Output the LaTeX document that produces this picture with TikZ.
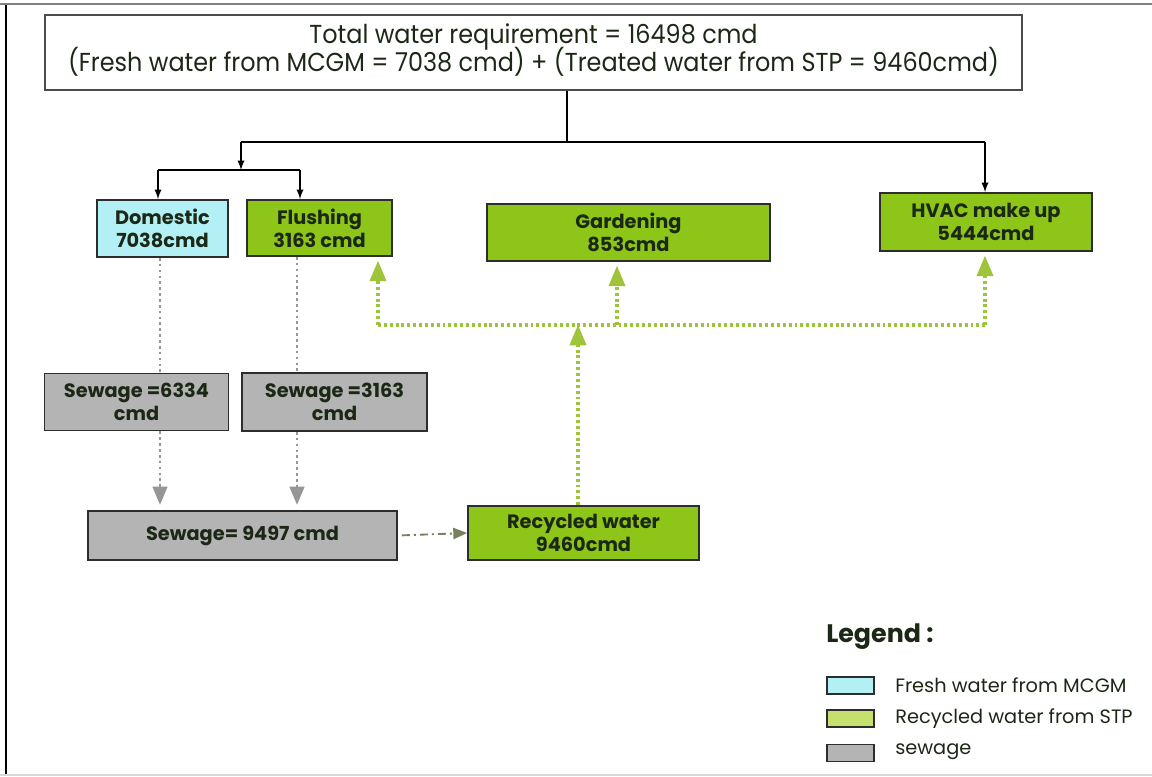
\documentclass[tikz,border=0pt]{standalone}
\usepackage{fontspec}
\setmainfont{Poppins}
\newfontfamily\titlefont[FakeStretch=0.92]{Poppins}
\usepackage{tikz}
\usetikzlibrary{arrows}
\definecolor{freshc}{RGB}{178,240,246}
\definecolor{recyc}{RGB}{141,197,24}
\definecolor{recyclegend}{RGB}{198,224,110}
\definecolor{sewc}{RGB}{180,180,180}
\definecolor{edgec}{RGB}{45,45,45}
\definecolor{txtc}{RGB}{28,40,22}
\definecolor{greendot}{RGB}{158,196,58}
\definecolor{greydot}{RGB}{150,150,150}
\definecolor{dashc}{RGB}{120,130,90}
\tikzset{
  box/.style={draw=edgec,line width=1.4pt,align=center,inner sep=0pt,text=txtc,
    font=\fontsize{14.5}{17.5}\selectfont\bfseries},
  freshbox/.style={box,fill=freshc},
  recycbox/.style={box,fill=recyc},
  sewbox/.style={box,fill=sewc},
  keybox/.style={draw=edgec,line width=1.1pt,minimum width=35pt,minimum height=12.5pt,inner sep=0pt},
  keytext/.style={anchor=west,inner sep=0pt,font=\fontsize{14.5}{17}\selectfont,text=txtc},
  feed/.style={line width=1.4pt,black},
  sewline/.style={line width=2.2pt,greydot,dash pattern=on 2pt off 2.4pt},
  reuse/.style={line width=2.6pt,greendot,dash pattern=on 2.2pt off 2.2pt},
}
\begin{document}
\begin{tikzpicture}[x=0.75pt,y=0.75pt,yscale=-1,xscale=1]
\useasboundingbox (0,0) rectangle (1152,776);

%Frame
\draw[line width=1.5pt,black] (6,4) -- (6,776);
\draw[line width=1.5pt,gray] (0,4) -- (1152,4);
\draw[line width=1pt,black!15] (0,775) -- (1152,775);

%Shape: Rectangle [title]
\node[draw=edgec!85,line width=1.9pt,minimum width=732.75pt,minimum height=56.25pt,inner sep=0pt] (title) at (533.5,52.5) {};
% Text Node
\node[align=center,inner sep=0pt,text=txtc,font=\titlefont\fontsize{19.5}{20.5}\selectfont] (titletext) at (533.5,50)
  {Total water requirement = 16498 cmd\\[-3.5pt](Fresh water from MCGM = 7038 cmd) + (Treated water from STP = 9460cmd)};

%Shape: Rectangle [uses]
\node[freshbox,minimum width=98.25pt,minimum height=42.75pt] (dom) at (162.5,228.5) {Domestic\\7038cmd};
\node[recycbox,minimum width=108.75pt,minimum height=42pt] (flush) at (319.5,228) {Flushing\\3163 cmd};
\node[recycbox,minimum width=212.25pt,minimum height=42.75pt] (garden) at (628.5,232.5) {Gardening\\853cmd};
\node[recycbox,minimum width=159pt,minimum height=43.5pt] (hvac) at (986,222) {HVAC make up\\5444cmd};

%Shape: Rectangle [sewage]
\node[sewbox,minimum width=138pt,minimum height=42.75pt] (sew1) at (136.5,402) {Sewage =6334\\cmd};
\node[sewbox,minimum width=138.75pt,minimum height=43.5pt] (sew2) at (334.5,402) {Sewage =3163\\cmd};
\node[sewbox,minimum width=231.75pt,minimum height=36.75pt] (sewall) at (242.5,535.5) {Sewage= 9497 cmd};
\node[recycbox,minimum width=173.25pt,minimum height=40.5pt] (recyc) at (583.5,533) {Recycled water\\9460cmd};

%Coordinates
\coordinate (topfork) at (567,142);
\coordinate (leftfork) at (241,142);
\coordinate (rightfork) at (985,142);
\coordinate (lowfork) at (241,170);
\coordinate (domfork) at (158,170);
\coordinate (flushfork) at (300,170);
\coordinate (colA) at (160,0);
\coordinate (colB) at (297,0);
\coordinate (colC) at (578,0);
\coordinate (reuseL) at (378,325);
\coordinate (reuseG) at (617,325);
\coordinate (reuseR) at (985,325);
\coordinate (reuseC) at (578,325);

%Straight Lines [supply]
\draw[feed] (title.south -| topfork) -- (topfork);
\draw[feed] (leftfork) -- (rightfork);
\draw[feed,-latex] (rightfork) -- (hvac.north -| rightfork);
\draw[feed,-latex] (leftfork) -- (lowfork);
\draw[feed] (domfork) -- (flushfork);
\draw[feed,-latex] (domfork) -- (dom.north -| domfork);
\draw[feed,-latex] (flushfork) -- (flush.north -| flushfork);

%Straight Lines [sewage]
\draw[sewline] (dom.south -| colA) -- (sew1.north -| colA);
\draw[sewline] (flush.south -| colB) -- (sew2.north -| colB);
\draw[sewline,-triangle 45,shorten >=4pt] (sew1.south -| colA) -- (sewall.north -| colA);
\draw[sewline,-triangle 45,shorten >=4pt] (sew2.south -| colB) -- (sewall.north -| colB);
\draw[line width=1.4pt,dashc,dash pattern=on 6pt off 3pt on 1.5pt off 3pt,-triangle 45,shorten <=3pt] (sewall.east) -- (recyc.west);

%Straight Lines [reuse]
\draw[reuse,-triangle 45] (recyc.north -| colC) -- (reuseC);
\draw[reuse] (reuseL) -- (reuseR);
\draw[reuse,-triangle 45,shorten >=3pt] (reuseL) -- (flush.south -| reuseL);
\draw[reuse,-triangle 45,shorten >=3pt] (reuseG) -- (garden.south -| reuseG);
\draw[reuse,-triangle 45,shorten >=3pt] (reuseR) -- (hvac.south -| reuseR);

% Text Node [legend]
\node[anchor=west,inner sep=0pt,font=\fontsize{19}{22}\selectfont\bfseries,text=txtc] (legtitle) at (826,637) {Legend :};
\node[keybox,fill=freshc] (keyfresh) at (850.5,685.5) {};
\node[keybox,fill=recyclegend] (keyrecyc) at (850.5,718.5) {};
\node[keybox,fill=sewc] (keysew) at (850.5,753) {};
\node[keytext] (legfresh) at (895,685.5) {Fresh water from MCGM};
\node[keytext] (legrecyc) at (895,718.5) {Recycled water from STP};
\node[keytext] (legsew) at (895,752) {sewage};
\end{tikzpicture}
\end{document}
